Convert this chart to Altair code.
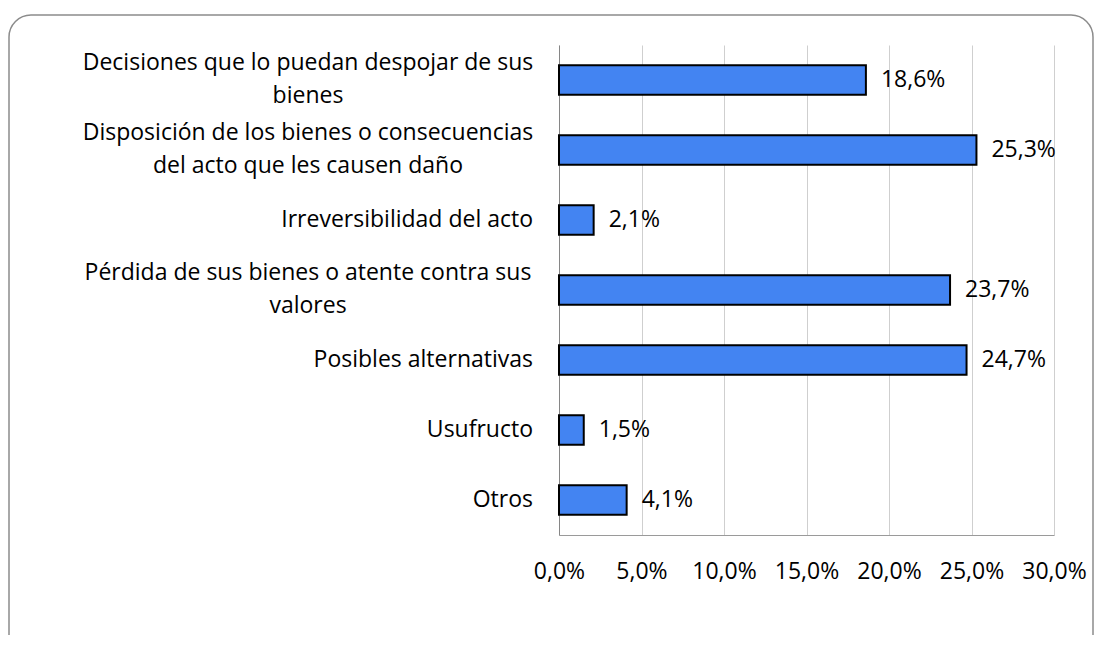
import altair as alt
import pandas as pd

categories = [
    "Decisiones que lo puedan despojar de sus bienes",
    "Disposición de los bienes o consecuencias del acto que les causen daño",
    "Irreversibilidad del acto",
    "Pérdida de sus bienes o atente contra sus valores",
    "Posibles alternativas",
    "Usufructo",
    "Otros",
]
display_labels = [
    "Decisiones que lo puedan despojar de sus\nbienes",
    "Disposición de los bienes o consecuencias\ndel acto que les causen daño",
    "Irreversibilidad del acto",
    "Pérdida de sus bienes o atente contra sus\nvalores",
    "Posibles alternativas",
    "Usufructo",
    "Otros",
]
values = [0.186, 0.253, 0.021, 0.237, 0.247, 0.015, 0.041]
x_ticks = [0, 0.05, 0.10, 0.15, 0.20, 0.25, 0.30]

df = pd.DataFrame({
    "cat": categories,
    "value": values,
    "label": [f"{v*100:.1f}%".replace(".", ",") for v in values],
    "ylab": display_labels,
    "multi": ["\n" in s for s in display_labels],
})

FONT = "Open Sans"
FS_CAT = 23
FS_NUM = 23

y_enc = alt.Y("cat:N", sort=categories,
              scale=alt.Scale(paddingInner=0.58, paddingOuter=0.29),
              axis=alt.Axis(labels=False, ticks=False, title=None, grid=False,
                            domain=True, domainColor="#868686", domainWidth=1))

base = alt.Chart(df)

border = alt.Chart(pd.DataFrame({"b": [0]})).mark_rect(
    fill=None, stroke="#8c8c8c", strokeWidth=1.5, cornerRadius=22
).encode(x=alt.value(-550), x2=alt.value(534), y=alt.value(-30), y2=alt.value(700))

bars = base.mark_bar(color="#4384F2", stroke="black", strokeWidth=2).encode(
    x=alt.X("value:Q",
            scale=alt.Scale(domain=[0, 0.30], nice=False),
            axis=alt.Axis(values=x_ticks, title=None, ticks=False,
                          labelExpr="replace(format(datum.value, '.1%'), '.', ',')",
                          labelFont=FONT, labelFontSize=FS_NUM, labelColor="black",
                          labelPadding=25, grid=True, gridColor="#cfcfcf",
                          domainColor="#9a9a9a", labelFlush=False)),
    y=y_enc,
)

vals = base.mark_text(align="left", baseline="middle", dx=15, font=FONT,
                      fontSize=FS_NUM, color="black").encode(
    x="value:Q", y=alt.Y("cat:N", sort=categories), text="label:N")

lab_single = base.transform_filter("!datum.multi").mark_text(
    align="right", baseline="middle", font=FONT, fontSize=FS_CAT, color="black"
).encode(x=alt.value(-26), y=alt.Y("cat:N", sort=categories), text="ylab:N")

lab_multi = base.transform_filter("datum.multi").mark_text(
    align="center", baseline="middle", font=FONT, fontSize=FS_CAT, color="black",
    lineBreak="\n", lineHeight=33, dy=-17
).encode(x=alt.value(-251), y=alt.Y("cat:N", sort=categories), text="ylab:N")

chart = alt.layer(border, bars, vals, lab_single, lab_multi).properties(
    width=495, height=490,
    autosize=alt.AutoSizeParams(type="none"),
    padding={"left": 551, "top": 37, "right": 40, "bottom": 100},
).configure_view(stroke=None)

chart.save("out.html", embed_options={"renderer": "svg", "actions": False})
